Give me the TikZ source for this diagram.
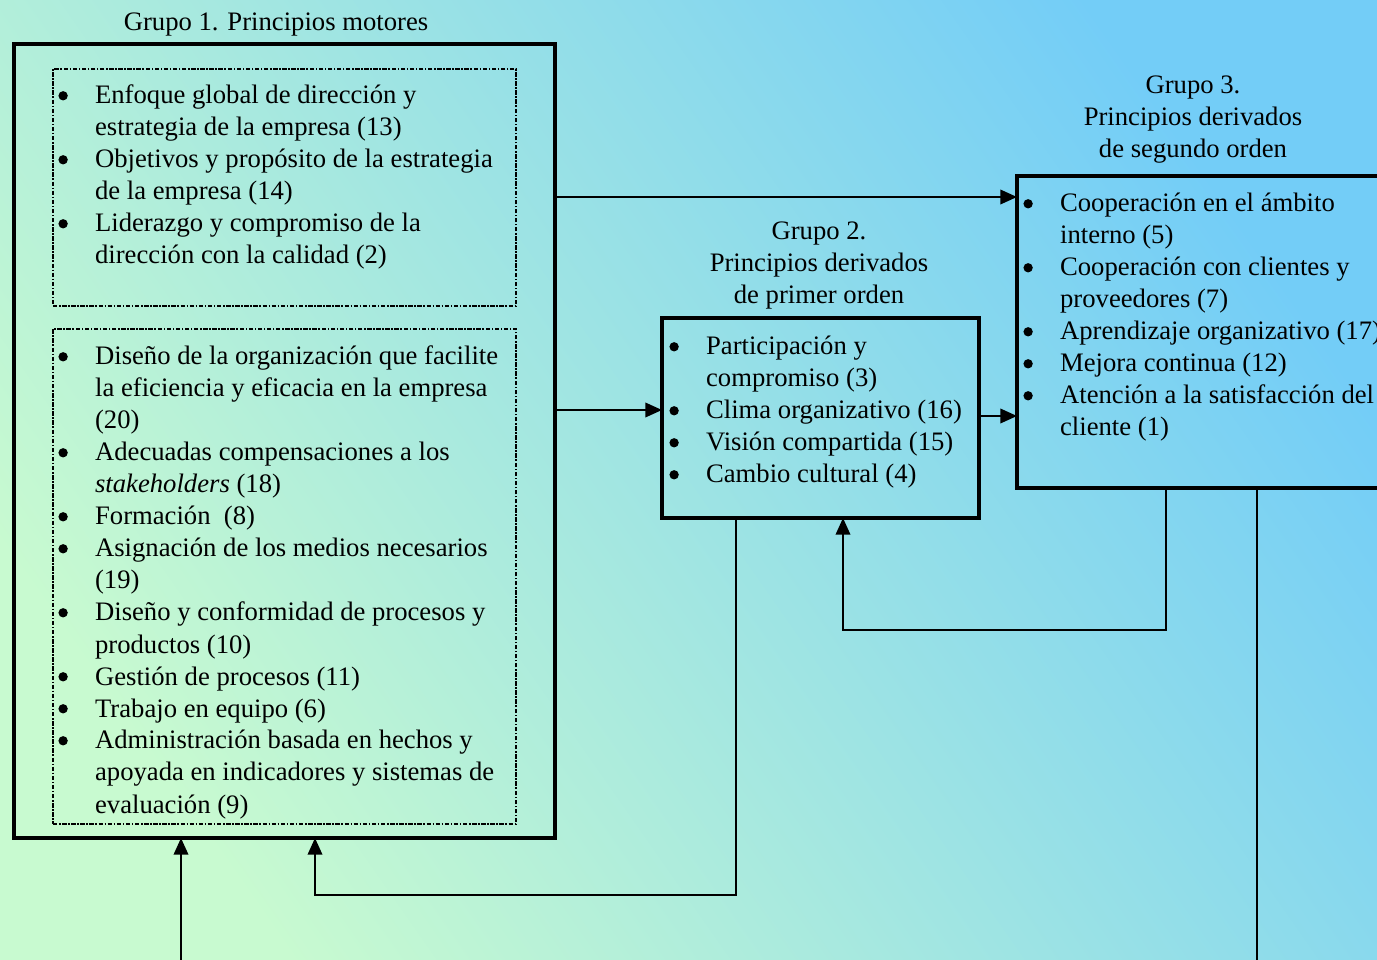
\documentclass[tikz,border=0pt]{standalone}
\usepackage{fontspec}
\setmainfont{Liberation Serif}
\usetikzlibrary{arrows.meta,fit}

\definecolor{bgGreen}{RGB}{200,250,208}
\definecolor{bgBlue}{RGB}{115,205,247}

\newcommand{\pbul}{\raisebox{1.6pt}{\tikz\fill (0,0) circle (2.1pt);}&}
\newenvironment{plist}{\begin{tabular}[t]{@{}p{16.5pt}@{}l@{}}}{\end{tabular}}

\tikzset{
  every node/.style={font=\fontsize{12}{14.4}\selectfont},
  box/.style={draw,line width=1.5pt,inner sep=0pt,outer sep=0pt},
  dotbox/.style={draw,line width=0.7pt,dash pattern=on 2pt off 0.7pt on 0.7pt off 0.7pt,inner sep=0pt,outer sep=0pt},
  lst/.style={anchor=base west,inner sep=0pt},
  ttl/.style={anchor=base,inner sep=0pt},
  conn/.style={line width=1pt,-{Triangle[length=7.5pt,width=6.5pt]}},
  wire/.style={line width=1pt}
}

\begin{document}
\begin{tikzpicture}[x=0.45pt,y=-0.45pt]
\useasboundingbox (0,0) rectangle (1377,960);
\clip (0,0) rectangle (1377,960);
\shade[bottom color=bgGreen,top color=bgBlue,shading angle=-55] (0,0) rectangle (1377,960);

\node[box,fit={(14,44) (555,838)}] (g1) {};
\node[dotbox,fit={(53,69) (516,306)}] (d1) {};
\node[dotbox,fit={(53,329) (516,824)}] (d2) {};
\node[box,fit={(662,318) (979,518)}] (g2) {};
\node[box,fit={(1017,176) (1400,488)}] (g3) {};

\node[ttl] (t1) at (276,31) {Grupo 1. Principios motores};
\node[ttl] (t2) at (819,240) {\begin{tabular}[t]{@{}c@{}}Grupo 2.\\Principios derivados\\de primer orden\end{tabular}};
\node[ttl] (t3) at (1193,94) {\begin{tabular}[t]{@{}c@{}}Grupo 3.\\Principios derivados\\de segundo orden\end{tabular}};

\node[lst] (l1) at (58,104) {\begin{plist}
\pbul Enfoque global de dirección y\\
& estrategia de la empresa (13)\\
\pbul Objetivos y propósito de la estrategia\\
& de la empresa (14)\\
\pbul Liderazgo y compromiso de la\\
& dirección con la calidad (2)
\end{plist}};

\node[lst] (l2) at (58,365) {\begin{plist}
\pbul Diseño de la organización que facilite\\
& la eficiencia y eficacia en la empresa\\
& (20)\\
\pbul Adecuadas compensaciones a los\\
& \textit{stakeholders} (18)\\
\pbul Formación\ \ (8)\\
\pbul Asignación de los medios necesarios\\
& (19)\\
\pbul Diseño y conformidad de procesos y\\
& productos (10)\\
\pbul Gestión de procesos (11)\\
\pbul Trabajo en equipo (6)\\
\pbul Administración basada en hechos y\\
& apoyada en indicadores y sistemas de\\
& evaluación (9)
\end{plist}};

\node[lst] (l3) at (669,355) {\begin{plist}
\pbul Participación y\\
& compromiso (3)\\
\pbul Clima organizativo (16)\\
\pbul Visión compartida (15)\\
\pbul Cambio cultural (4)
\end{plist}};

\node[lst] (l4) at (1023,212) {\begin{plist}
\pbul Cooperación en el ámbito\\
& interno (5)\\
\pbul Cooperación con clientes y\\
& proveedores (7)\\
\pbul Aprendizaje organizativo (17)\\
\pbul Mejora continua (12)\\
\pbul Atención a la satisfacción del\\
& cliente (1)
\end{plist}};

\coordinate (out3) at (1257,960);
\coordinate (in1) at (181,960);

\draw[conn] (g1.east |- 0,197) -- (g3.west |- 0,197);
\draw[conn] (g1.east |- 0,410) -- (g2.west |- 0,410);
\draw[conn] (g2.east |- 0,416) -- (g3.west |- 0,416);
\draw[conn] (g3.south -| 1166,0) -- (1166,630) -| (g2.south -| 843,0);
\draw[conn] (g2.south -| 736,0) -- (736,895) -| (g1.south -| 315,0);
\draw[wire] (g3.south -| out3) -- (out3);
\draw[conn] (in1) -- (g1.south -| in1);

\end{tikzpicture}
\end{document}
